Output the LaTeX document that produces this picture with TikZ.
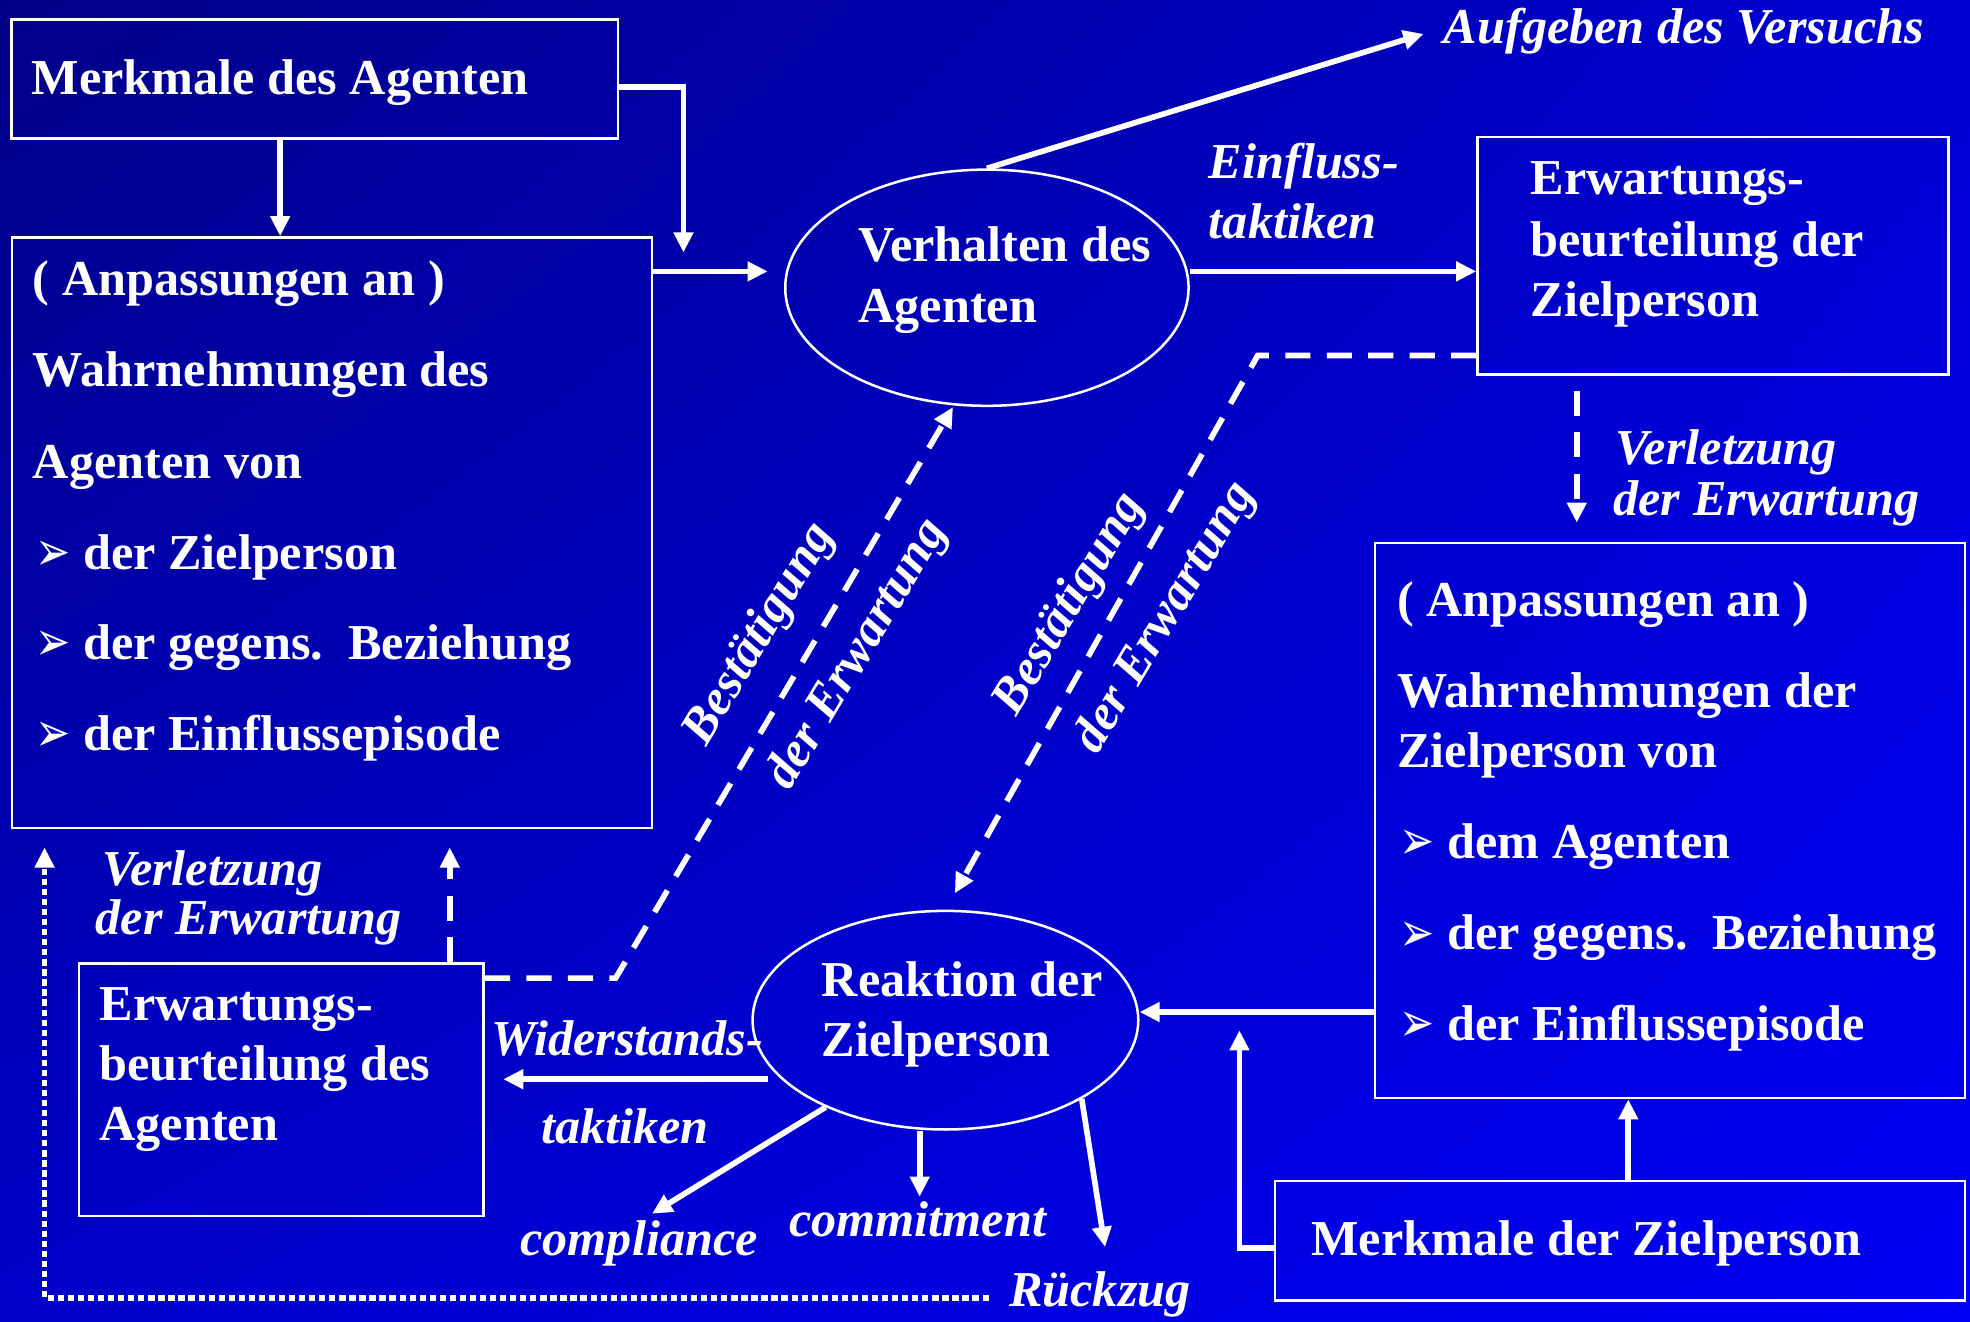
\documentclass[tikz,border=0pt]{standalone}
\usepackage{fontspec}
\setmainfont{Liberation Serif}
\newfontfamily\symfont{DejaVu Sans}
\usetikzlibrary{shapes.geometric,arrows.meta,calc,shadings}
\definecolor{bgUL}{RGB}{0,0,135}
\definecolor{bgUR}{RGB}{0,0,210}
\definecolor{bgLL}{RGB}{0,0,200}
\definecolor{bgLR}{RGB}{0,0,245}
\newcommand\mybul{\makebox[40pt][l]{\hspace*{2pt}\raisebox{-1pt}{\scalebox{0.76}[1]{\symfont\fontsize{44}{44}\selectfont ➢}}}}
\tikzset{
  mybox/.style={draw=white, line width=2pt, rectangle, inner sep=0pt, anchor=north west},
  myoval/.style={draw=white, line width=2pt, ellipse, inner sep=0pt},
  txt/.style={text=white, inner sep=0pt, anchor=base west, font=\bfseries\fontsize{40}{48}\selectfont},
  itxt/.style={txt, font=\bfseries\itshape\fontsize{40}{48}\selectfont},
  rtxt/.style={text=white, inner sep=0pt, anchor=center, rotate=59, font=\bfseries\itshape\fontsize{40}{48}\selectfont},
  arr/.style={draw=white, line width=4.5pt, -{Triangle[length=16pt,width=15pt]}},
  darr/.style={arr, dash pattern=on 20pt off 13pt},
  dotarr/.style={arr, dash pattern=on 5pt off 3pt},
}
\begin{document}
\begin{tikzpicture}[x=1pt,y=-1pt]
\useasboundingbox (0,0) rectangle (1568,1052);
\shade[upper left=bgUL, upper right=bgUR, lower left=bgLL, lower right=bgLR] (0,0) rectangle (1568,1052);

% boxes
\node[mybox, minimum width=483pt, minimum height=94.5pt] (MA) at (8,14.6) {};
\node[mybox, minimum width=509.5pt, minimum height=470pt] (LA) at (8.5,188) {};
\node[mybox, minimum width=375pt, minimum height=189pt] (ER) at (1175,108) {};
\node[mybox, minimum width=469.5pt, minimum height=442pt] (RZ) at (1093.5,431) {};
\node[mybox, minimum width=549pt, minimum height=95pt] (MZ) at (1014,939) {};
\node[mybox, minimum width=322pt, minimum height=201pt] (EA) at (62,766) {};
\node[myoval, minimum width=321pt, minimum height=188pt] (VA) at (785.5,229) {};
\node[myoval, minimum width=307pt, minimum height=174pt] (RE) at (752.5,812) {};

% box texts
\node[txt] (tMA) at (25,75.6) {Merkmale des Agenten};
\node[txt] (tLA1) at (26,235) {( Anpassungen an )};
\node[txt] (tLA2) at (26,308) {Wahrnehmungen des};
\node[txt] (tLA3) at (26,381) {Agenten von};
\node[txt] (tLA4) at (26,453) {\mybul der Zielperson};
\node[txt] (tLA5) at (26,525) {\mybul der gegens.\ \ Beziehung};
\node[txt] (tLA6) at (26,597) {\mybul der Einflussepisode};
\node[txt] (tVA1) at (683,208) {Verhalten des};
\node[txt] (tVA2) at (683,257) {Agenten};
\node[txt] (tER1) at (1218,155) {Erwartungs-};
\node[txt] (tER2) at (1218,204) {beurteilung der};
\node[txt] (tER3) at (1218,252) {Zielperson};
\node[txt] (tRZ1) at (1112,491) {( Anpassungen an )};
\node[txt] (tRZ2) at (1112,563) {Wahrnehmungen der};
\node[txt] (tRZ3) at (1112,611) {Zielperson von};
\node[txt] (tRZ4) at (1112,683) {\mybul dem Agenten};
\node[txt] (tRZ5) at (1112,756) {\mybul der gegens.\ \ Beziehung};
\node[txt] (tRZ6) at (1112,828) {\mybul der Einflussepisode};
\node[txt] (tRE1) at (654,793.5) {Reaktion der};
\node[txt] (tRE2) at (654,841) {Zielperson};
\node[txt] (tEA1) at (79,812) {Erwartungs-};
\node[txt] (tEA2) at (79,860) {beurteilung des};
\node[txt] (tEA3) at (79,908) {Agenten};
\node[txt] (tMZ) at (1043.5,999) {Merkmale der Zielperson};

% italic labels
\node[itxt] (lAuf) at (1149,34.5) {Aufgeben des Versuchs};
\node[itxt] (lEin1) at (962,142) {Einfluss-};
\node[itxt] (lEin2) at (962,190) {taktiken};
\node[itxt] (lVR1) at (1286,370) {Verletzung};
\node[itxt] (lVR2) at (1284,410) {der Erwartung};
\node[itxt] (lVL1) at (81,704.5) {Verletzung};
\node[itxt] (lVL2) at (76,744) {der Erwartung};
\node[itxt] (lWid) at (391,840) {Widerstands-};
\node[itxt] (lTak) at (430.5,910) {taktiken};
\node[itxt] (lCom) at (414,999) {compliance};
\node[itxt] (lCmt) at (628,984) {commitment};
\node[itxt] (lRue) at (803,1040) {Rückzug};
\node[rtxt] (rBL1) at (605,505) {Bestätigung};
\node[rtxt] (rBL2) at (683,521) {der Erwartung};
\node[rtxt] (rBR1) at (852,481) {Bestätigung};
\node[rtxt] (rBR2) at (928,492) {der Erwartung};

% helper coordinates
\coordinate (c1) at (544,201);
\coordinate (xa) at (223,0);
\coordinate (yv) at (0,216);
\coordinate (c2) at (611,216);
\coordinate (c3) at (1133,27);
\coordinate (y283) at (0,283);
\coordinate (c4) at (1001,283);
\coordinate (c5) at (760,711);
\coordinate (x1255) at (1255,0);
\coordinate (c6) at (1255,416);
\coordinate (y805) at (0,805.5);
\coordinate (c7) at (986.5,820);
\coordinate (y993) at (0,993.5);
\coordinate (x1296) at (1296,0);
\coordinate (y859) at (0,859);
\coordinate (c9) at (519,966);
\coordinate (x732) at (732,0);
\coordinate (c10) at (732,952.5);
\coordinate (c11) at (879.5,992.5);
\coordinate (c12) at (787,1033);
\coordinate (x35) at (35.5,0);
\coordinate (x358) at (358,0);
\coordinate (y778) at (0,778.5);
\coordinate (c14) at (490,778.5);
\coordinate (c15) at (758.5,324);

% connectors
\draw[arr] ([yshift=-6.5pt]MA.east) -| (c1);
\draw[arr] (MA.south -| xa) -- (LA.north -| xa);
\draw[arr] (LA.east |- yv) -- (c2);
\draw[arr] (VA.north) -- (c3);
\draw[arr] (VA.east |- yv) -- (ER.west |- yv);
\draw[darr] (ER.west |- y283) -- (c4) -- (c5);
\draw[darr, shorten <=12pt] (ER.south -| x1255) -- (c6);
\draw[arr] (RZ.west |- y805) -- (RE.east |- y805);
\draw[arr] (MZ.west |- y993) -| (c7);
\draw[arr] (MZ.north -| x1296) -- (RZ.south -| x1296);
\draw[arr, shorten <=-13pt, shorten >=14.5pt] (RE.west |- y859) -- (EA.east |- y859);
\draw[arr] (RE.216) -- (c9);
\draw[arr] (RE.south -| x732) -- (c10);
\draw[arr] (RE.330) -- (c11);
\draw[dotarr, shorten >=14.5pt] (c12) -| (LA.south -| x35);
\draw[darr, shorten >=14.5pt] (EA.north -| x358) -- (LA.south -| x358);
\draw[darr] (EA.east |- y778) -- (c14) -- (c15);
\end{tikzpicture}
\end{document}
